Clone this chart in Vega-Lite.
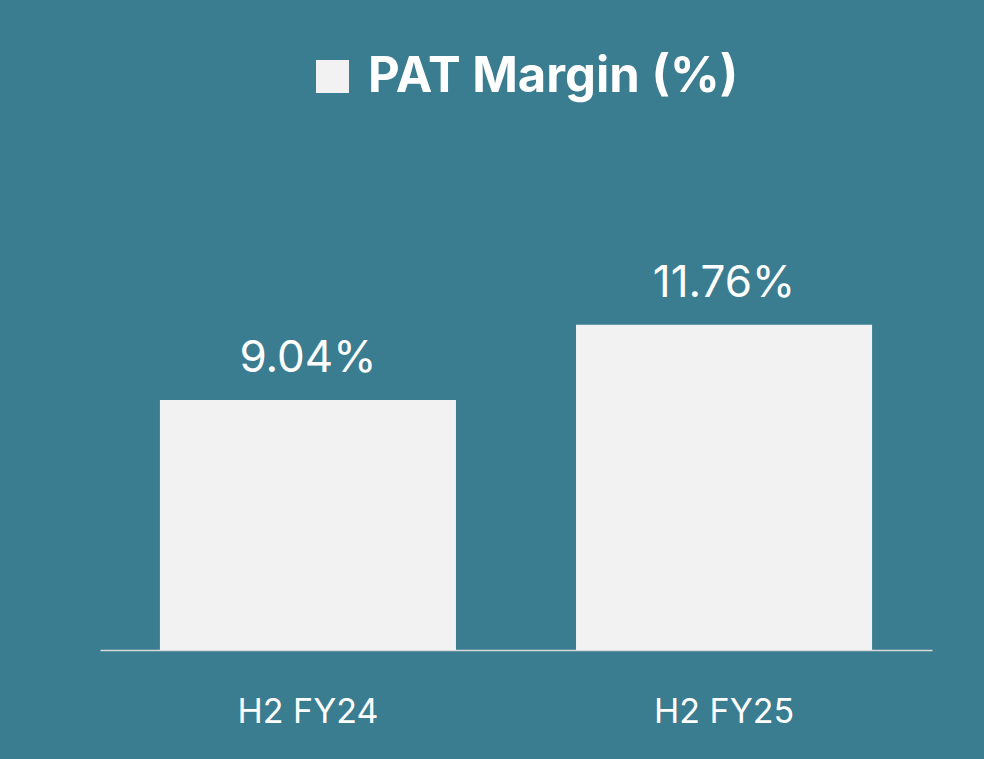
{
  "$schema": "https://vega.github.io/schema/vega-lite/v6.json",
  "width": 832,
  "height": 553,
  "autosize": {"type": "none"},
  "padding": {"left": 100, "top": 97, "right": 52, "bottom": 109},
  "background": "#3a7c90",
  "config": {
    "view": {"stroke": null},
    "font": "Inter"
  },
  "data": {
    "values": [
      {"period": "H2 FY24", "value": 9.04, "label": "9.04%", "series": "PAT Margin (%)"},
      {"period": "H2 FY25", "value": 11.76, "label": "11.76%", "series": "PAT Margin (%)"}
    ]
  },
  "encoding": {
    "x": {
      "field": "period",
      "type": "nominal",
      "sort": null,
      "scale": {"paddingInner": 0.2885, "paddingOuter": 0.144},
      "axis": {
        "title": null,
        "labelAngle": 0,
        "ticks": false,
        "labelPadding": 72,
        "labelBaseline": "alphabetic",
        "labelFontSize": 34,
        "labelFont": "Inter",
        "labelColor": "#ffffff",
        "domainColor": "#d9d9d9",
        "domainWidth": 1.5,
        "grid": false
      }
    },
    "y": {
      "field": "value",
      "type": "quantitative",
      "scale": {"domain": [0, 20]},
      "axis": null
    }
  },
  "layer": [
    {
      "mark": {"type": "bar", "color": "#f2f2f2"},
      "encoding": {
        "color": {
          "field": "series",
          "type": "nominal",
          "scale": {"range": ["#f2f2f2"]},
          "legend": {
            "orient": "none",
            "legendX": 208,
            "legendY": -45,
            "title": null,
            "symbolType": "square",
            "symbolSize": 1089,
            "symbolStrokeWidth": 0,
            "symbolOpacity": 1,
            "labelFontSize": 49,
            "labelFontWeight": "bold",
            "labelFont": "Inter",
            "labelColor": "#ffffff",
            "labelOffset": 11,
            "padding": 0,
            "labelLimit": 600
          }
        }
      }
    },
    {
      "mark": {"type": "text", "baseline": "alphabetic", "dy": -28, "fontSize": 44, "color": "#ffffff", "font": "Inter"},
      "encoding": {
        "text": {"field": "label"}
      }
    }
  ]
}
